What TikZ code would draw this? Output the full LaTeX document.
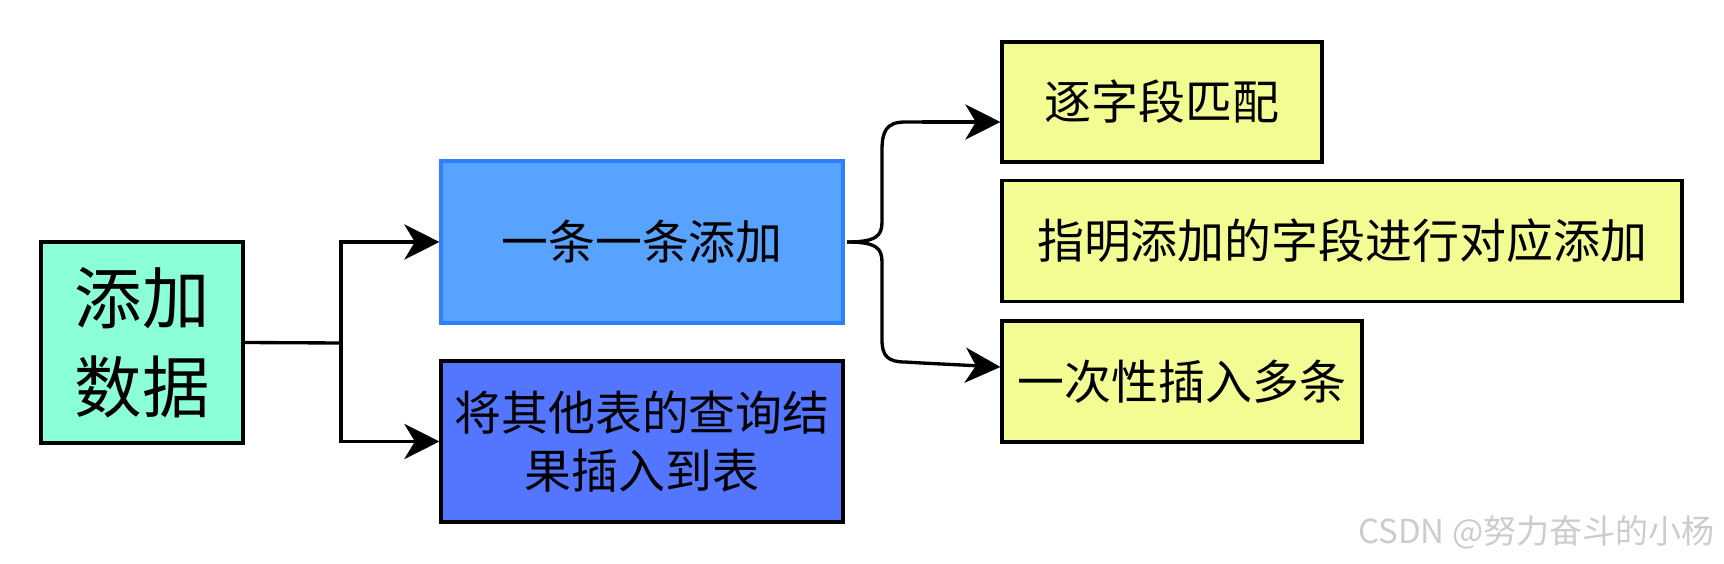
\documentclass[tikz,border=0pt]{standalone}
\usepackage{fontspec}
\newfontfamily\cjk{Noto Sans CJK SC}
\usetikzlibrary{positioning,arrows.meta,calc}
\definecolor{rootfill}{RGB}{138,255,216}
\definecolor{onefill}{RGB}{87,163,255}
\definecolor{onedraw}{RGB}{46,126,255}
\definecolor{otherfill}{RGB}{84,118,255}
\definecolor{fieldfill}{RGB}{243,252,146}
\definecolor{markgrey}{gray}{0.80}
\tikzset{
  fig/.style={font=\cjk},
  box/.style={draw,line width=1.8pt,align=center,inner sep=0pt,
              font=\cjk\fontsize{26.7}{33}\selectfont},
  rootbox/.style={box,fill=rootfill,minimum width=4.04cm,minimum height=4.02cm,
                  font=\cjk\fontsize{38.4}{50.6}\selectfont},
  onebox/.style={box,draw=onedraw,fill=onefill,minimum width=8.04cm,minimum height=3.24cm},
  otherbox/.style={box,fill=otherfill,minimum width=8.04cm,minimum height=3.22cm},
  fieldbox/.style={box,fill=fieldfill,minimum height=2.42cm},
  ln/.style={-{Stealth[length=20pt,width=20pt,inset=6pt]},line width=1.9pt},
  bl/.style={line width=1.9pt},
  wmark/.style={font=\cjk\fontsize{18.8}{20}\selectfont,text=markgrey,inner sep=0pt},
}

\begin{document}
\begin{tikzpicture}[fig,x=0.02cm,y=-0.02cm]
\useasboundingbox (0,0) rectangle (1724,564);

% ------------------------------------------------ 1: root and its two ways
\node[rootbox] (root) at (142,342.5) {添加\\数据};
\node[onebox] (one) at (642,242) {一条一条添加};
\node[otherbox] (other) at (642,441.5) {将其他表的查询结\\果插入到表};

\coordinate (jn) at (341,343);
\draw[bl] (root.east) -- (jn);
\draw[ln] (jn) |- (one.west);
\draw[ln] (jn) |- (other.west);

% ------------------------------------------------ 2: the field variants
\node[fieldbox,minimum width=6.4cm,minimum height=2.4cm] (f1) at (1162,102) {逐字段匹配};
\node[fieldbox,minimum width=13.6cm] (f2) at (1342,241) {指明添加的字段进行对应添加};
\node[fieldbox,minimum width=7.2cm] (f3) at (1182,381.5) {一次性插入多条};

% brace out of the first way
\coordinate (bm) at (847,242);
\coordinate (bt) at (922,122);
\coordinate (bb) at (922,363);
\draw[bl] (bt) -- (905,122) .. controls (886,122) and (882,132) .. (882,150)
  -- (882,222) .. controls (882,236) and (876,242) .. (bm);
\draw[bl] (bm) .. controls (876,242) and (882,248) .. (882,262)
  -- (882,340) .. controls (882,356) and (888,362) .. (905,362) -- (bb);
\draw[ln] (bt) -- ($(f1.west)+(0,20)$);
\draw[ln] (bb) -- ($(f3.west)+(0,-14.5)$);

\node[wmark,anchor=east] (wm) at (1715,532) {CSDN @努力奋斗的小杨};

\end{tikzpicture}
\end{document}
